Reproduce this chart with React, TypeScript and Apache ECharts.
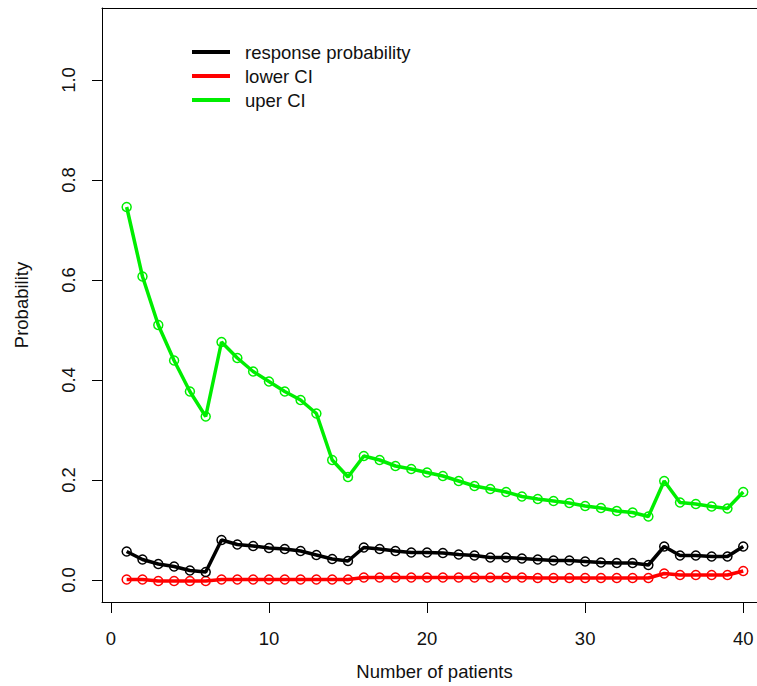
import React, { useEffect, useRef } from "react";
import * as echarts from "echarts";

const patients = [1, 2, 3, 4, 5, 6, 7, 8, 9, 10, 11, 12, 13, 14, 15, 16, 17, 18, 19, 20, 21, 22, 23, 24, 25, 26, 27, 28, 29, 30, 31, 32, 33, 34, 35, 36, 37, 38, 39, 40];

const responseProb = [0.057, 0.041, 0.032, 0.027, 0.019, 0.016, 0.080, 0.071, 0.068, 0.064, 0.062, 0.058, 0.050, 0.042, 0.038, 0.065, 0.062, 0.058, 0.055, 0.055, 0.054, 0.051, 0.049, 0.045, 0.045, 0.043, 0.041, 0.039, 0.039, 0.037, 0.035, 0.034, 0.034, 0.030, 0.067, 0.049, 0.049, 0.047, 0.047, 0.067];

const lowerCI = [0.001, 0.001, -0.002, -0.002, -0.002, -0.002, 0.001, 0.001, 0.001, 0.001, 0.001, 0.001, 0.001, 0.001, 0.001, 0.005, 0.005, 0.005, 0.005, 0.005, 0.005, 0.005, 0.005, 0.005, 0.005, 0.005, 0.004, 0.004, 0.004, 0.004, 0.004, 0.004, 0.004, 0.004, 0.013, 0.010, 0.010, 0.010, 0.010, 0.018];

const upperCI = [0.746, 0.607, 0.510, 0.439, 0.377, 0.327, 0.476, 0.444, 0.417, 0.397, 0.377, 0.360, 0.333, 0.240, 0.206, 0.248, 0.240, 0.228, 0.222, 0.215, 0.208, 0.198, 0.188, 0.182, 0.176, 0.167, 0.162, 0.158, 0.154, 0.148, 0.144, 0.138, 0.135, 0.127, 0.198, 0.155, 0.152, 0.147, 0.143, 0.176];

const xTicks = [0, 10, 20, 30, 40];
const yTicks = [0, 0.2, 0.4, 0.6, 0.8, 1.0];

const seriesNames = ["response probability", "lower CI", "uper CI"];
const seriesColors = ["#000000", "#ff0000", "#00ee00"];

const FONT = "'Liberation Sans', Arial, sans-serif";
const FS = 18.5;
const X_MIN = -0.56;
const X_MAX = 40.87;

export default function App() {
  const ref = useRef<HTMLDivElement>(null);
  useEffect(() => {
    if (!ref.current) return;
    const chart = echarts.init(ref.current, null, { renderer: "svg" });
    const datasets = [responseProb, lowerCI, upperCI];
    const series = datasets.map((vals, i) => ({
      name: seriesNames[i],
      type: "line",
      xAxisIndex: 0,
      data: patients.map((x, j) => [x, vals[j]]),
      symbol: "circle",
      symbolSize: 9,
      clip: false,
      lineStyle: { color: seriesColors[i], width: 3.5 },
      itemStyle: { color: "transparent", borderColor: seriesColors[i], borderWidth: 1.5 },
      z: 3 - i,
    }));
    chart.setOption({
      animation: false,
      backgroundColor: "#ffffff",
      textStyle: { fontFamily: FONT },
      grid: {
        left: 102,
        top: 8,
        right: 0,
        bottom: 83,
        show: false,
      },
      legend: {
        orient: "vertical",
        left: 187,
        top: 35,
        itemGap: 0,
        itemWidth: 38,
        itemHeight: 4,
        icon: "rect",
        selectedMode: false,
        data: seriesNames.map((n, i) => ({ name: n, itemStyle: { color: seriesColors[i], borderWidth: 0 } })),
        textStyle: {
          fontFamily: FONT,
          fontSize: FS,
          color: "#111",
          lineHeight: 24,
          padding: [0, 0, 0, 10],
        },
      },
      xAxis: [
        {
          type: "value",
          position: "bottom",
          min: X_MIN,
          max: X_MAX,
          name: "Number of patients",
          nameLocation: "middle",
          nameGap: 60,
          nameTextStyle: { fontFamily: FONT, fontSize: FS, color: "#111", padding: [0, 0, 0, 10] },
          axisLine: { show: true, onZero: false, lineStyle: { color: "#000", width: 1 } },
          splitLine: { show: false },
          axisTick: { show: true, inside: false, length: 11, customValues: xTicks, lineStyle: { color: "#000" } },
          axisLabel: {
            customValues: xTicks,
            margin: 27,
            fontFamily: FONT,
            fontSize: FS,
            color: "#111",
            formatter: (v: number) => String(v),
          },
        },
        {
          type: "value",
          position: "top",
          min: X_MIN,
          max: X_MAX,
          axisLine: { show: true, onZero: false, lineStyle: { color: "#000", width: 1 } },
          splitLine: { show: false },
          axisTick: { show: false },
          axisLabel: { show: false },
        },
      ],
      yAxis: {
        type: "value",
        min: -0.044,
        max: 1.144,
        name: "Probability",
        nameLocation: "middle",
        nameGap: 71,
        nameRotate: 90,
        nameTextStyle: { fontFamily: FONT, fontSize: FS, color: "#111" },
        axisLine: { show: true, onZero: false, lineStyle: { color: "#000", width: 1 } },
        splitLine: { show: false },
        axisTick: { show: true, inside: false, length: 10, customValues: yTicks, lineStyle: { color: "#000" } },
        axisLabel: {
          customValues: yTicks,
          rotate: 90,
          margin: 24,
          fontFamily: FONT,
          fontSize: FS,
          color: "#111",
          formatter: (v: number) => v.toFixed(1),
        },
      },
      series,
    });
    return () => chart.dispose();
  }, []);
  return (
    <div style={{ position: "absolute", left: 0, top: 0, width: 757, height: 686, overflow: "hidden", background: "#fff" }}>
      <div ref={ref} style={{ width: 757, height: 686 }} />
    </div>
  );
}
